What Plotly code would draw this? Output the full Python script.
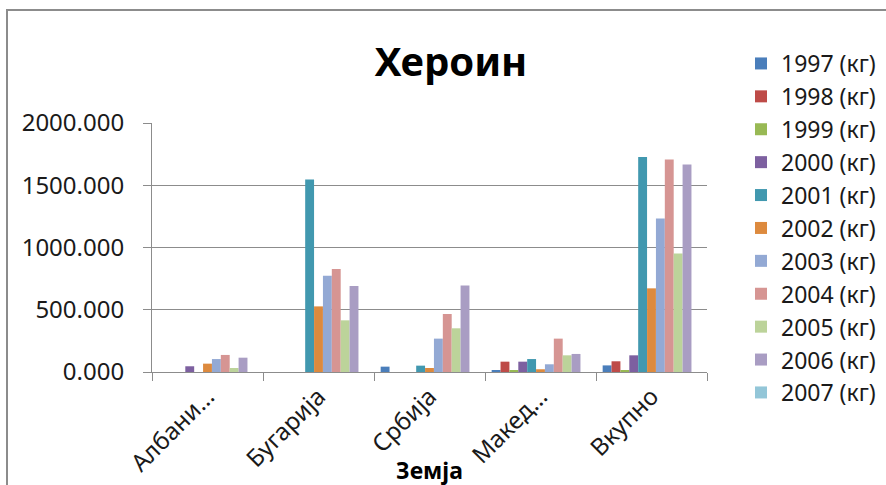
import plotly.graph_objects as go

# ---- data ----
countries = ["Албани…", "Бугарија", "Србија", "Макед…", "Вкупно"]
series_names = ["1997 (кг)", "1998 (кг)", "1999 (кг)", "2000 (кг)", "2001 (кг)", "2002 (кг)",
                "2003 (кг)", "2004 (кг)", "2005 (кг)", "2006 (кг)", "2007 (кг)"]
v1997 = [0, 0, 43, 14, 53]
v1998 = [0, 0, 0, 83, 86]
v1999 = [0, 0, 0, 11, 16]
v2000 = [46, 0, 0, 83, 134]
v2001 = [0, 1547, 51, 104, 1727]
v2002 = [67, 527, 32, 22, 672]
v2003 = [104, 774, 268, 62, 1232]
v2004 = [137, 827, 466, 268, 1706]
v2005 = [32, 415, 351, 134, 951]
v2006 = [115, 690, 694, 145, 1666]
v2007 = [0, 0, 0, 0, 0]
series_values = [v1997, v1998, v1999, v2000, v2001, v2002, v2003, v2004, v2005, v2006, v2007]
y_ticks = [0, 500, 1000, 1500, 2000]

colors = ["#4A7EBB", "#BE4B48", "#98B954", "#7D60A0", "#4198AF", "#DD8A3E",
          "#93A9D4", "#D69593", "#BCD39A", "#A99DC3", "#93C6D8"]

FONT = "Noto Sans, Open Sans, DejaVu Sans, sans-serif"
W, H = 886, 485
L, R, T, B = 152, 179, 123, 113

fig = go.Figure()
for name, vals, c in zip(series_names, series_values, colors):
    fig.add_trace(go.Bar(x=countries, y=vals, name=name,
                         marker=dict(color=c, line=dict(width=0))))

def px_x(p):
    return (p - L) / (W - L - R)

def px_y(p):
    return (H - B - p) / (H - B - T)

fig.update_layout(
    width=W, height=H, autosize=False,
    margin=dict(l=L, r=R, t=T, b=B, pad=0, autoexpand=False),
    paper_bgcolor="white", plot_bgcolor="white",
    barmode="group", bargap=0.12, bargroupgap=0,
    font=dict(family=FONT, size=24, color="#1a1a1a"),
    title=dict(text="<b>Хероин</b>", x=451 / W, y=1 - 62 / H, xanchor="center", yanchor="middle",
               font=dict(family=FONT, size=40, color="black")),
    legend=dict(x=px_x(741), y=px_y(42), xanchor="left", yanchor="top",
                font=dict(family=FONT, size=23, color="#1a1a1a"),
                bgcolor="rgba(0,0,0,0)", traceorder="normal", maxheight=470),
    xaxis=dict(showline=True, linecolor="#8c8c8c", linewidth=1,
               ticks="outside", tickson="boundaries", ticklen=8, tickcolor="#8c8c8c",
               tickangle=-45, tickfont=dict(size=24), showgrid=False, fixedrange=True),
    yaxis=dict(range=[0, 2000], tickvals=y_ticks, tickformat=".3f",
               showline=True, linecolor="#8c8c8c", linewidth=1,
               ticks="outside", ticklen=8, tickcolor="#8c8c8c",
               ticklabelstandoff=14,
               showgrid=True, gridcolor="#8c8c8c", gridwidth=1,
               zeroline=False, tickfont=dict(size=24)),
    annotations=[dict(text="<b>Земја</b>", xref="paper", yref="paper",
                      x=0.5, y=px_y(470), xanchor="center", yanchor="middle",
                      showarrow=False, font=dict(family=FONT, size=23, color="black"))],
    shapes=[dict(type="rect", xref="paper", yref="paper",
                 x0=px_x(7), x1=px_x(W + 20), y0=px_y(H + 20), y1=px_y(10),
                 line=dict(color="#8c8c8c", width=2), fillcolor="rgba(0,0,0,0)", layer="below")],
)

fig.write_html("out.html", config={"displayModeBar": False},
               post_script="document.body.style.margin='0';document.body.style.padding='0';"
                           "document.body.style.overflow='hidden';")
